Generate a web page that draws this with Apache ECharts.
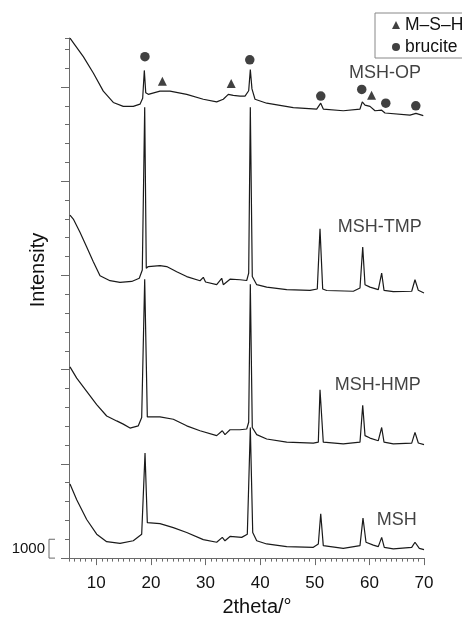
<!DOCTYPE html>
<html>
<head>
<meta charset="utf-8">
<script src="https://cdn.jsdelivr.net/npm/echarts@6/dist/echarts.min.js"></script>
<style>
html,body{margin:0;padding:0;background:#fff;}
#chart{width:462px;height:622px;}
</style>
</head>
<body>
<div id="chart"></div>
<script>
// patterns (2theta in degrees, stacked intensity in counts)
var opX  = [5.18, 6.10, 7.62, 9.45, 11.28, 13.11, 14.94, 16.77, 18.0, 18.49, 18.79, 19.05, 19.52, 21.66, 23.49, 26.55, 29.59, 32.04, 33.25, 34.17, 35.08, 36.31, 37.23, 37.9, 38.2, 38.5, 39.06, 41.20, 46.07, 50.35, 51.09, 51.56, 55.22, 58.28, 58.70, 59.20, 60.11, 61.03, 62.25, 62.86, 67.43, 68.53, 69.87];
var opY  = [27590, 27220, 26610, 25740, 24780, 24180, 23970, 23970, 24090, 24400, 25880, 24700, 24610, 24780, 24780, 24610, 24350, 24210, 24350, 24610, 24560, 24520, 24520, 24800, 25920, 24900, 24350, 24140, 23910, 23830, 24140, 23830, 23740, 23830, 24210, 24040, 23970, 23740, 23770, 23620, 23510, 23600, 23480];

var tmpX = [5.18, 5.79, 7.01, 8.24, 9.45, 10.68, 12.51, 14.34, 16.48, 17.87, 18.42, 18.86, 19.15, 19.52, 21.66, 22.89, 24.72, 26.55, 28.99, 29.59, 30.0, 32.04, 32.96, 33.25, 34.48, 36.31, 37.54, 37.90, 38.20, 38.56, 39.37, 41.20, 44.86, 49.13, 50.46, 50.96, 51.45, 52.18, 57.06, 58.28, 58.78, 59.20, 60.11, 61.63, 62.25, 62.68, 64.38, 67.75, 68.35, 68.96, 70];
var tmpY = [18200, 17990, 17290, 16510, 15730, 14980, 14720, 14630, 14680, 14850, 15290, 23930, 15380, 15470, 15520, 15470, 15200, 14940, 14720, 14900, 14650, 14510, 14850, 14510, 14800, 14770, 14730, 15120, 23930, 14940, 14510, 14380, 14250, 14210, 14280, 17470, 14280, 14200, 14160, 14330, 16510, 14510, 14380, 14250, 15120, 14210, 14140, 14160, 14770, 14210, 14070];

var hmpX = [5.18, 6.41, 8.24, 10.07, 11.90, 13.73, 14.94, 16.17, 17.69, 18.31, 18.86, 19.34, 21.66, 24.10, 26.55, 28.99, 32.04, 33.07, 33.56, 34.48, 36.31, 37.54, 37.90, 38.20, 38.56, 39.37, 41.20, 44.86, 49.74, 50.65, 50.96, 51.56, 55.22, 58.28, 58.78, 59.20, 60.11, 61.63, 62.25, 62.68, 64.38, 67.75, 68.35, 68.96, 70];
var hmpY = [10150, 9550, 8850, 8150, 7540, 7280, 7110, 6900, 7020, 7460, 14800, 7490, 7490, 7370, 7020, 6760, 6500, 6760, 6550, 6810, 6810, 6850, 7210, 14530, 6930, 6550, 6320, 6150, 6100, 6150, 8930, 6150, 6060, 6150, 8110, 6500, 6370, 6230, 6930, 6150, 6060, 6100, 6670, 6110, 6020];

var mshX = [5.18, 6.41, 8.24, 10.07, 11.90, 14.34, 16.77, 18.31, 18.92, 19.34, 21.66, 24.10, 26.55, 29.59, 32.04, 33.07, 33.56, 34.48, 36.62, 37.65, 38.20, 38.64, 39.37, 41.20, 44.86, 49.74, 50.65, 51.09, 51.56, 55.22, 58.28, 58.83, 59.38, 60.72, 61.63, 62.25, 62.73, 64.38, 67.75, 68.35, 69.14, 70];
var mshY = [3930, 3100, 2050, 1270, 870, 780, 920, 1270, 5570, 1880, 1830, 1620, 1360, 980, 840, 1100, 920, 1150, 1100, 1270, 6930, 1360, 920, 750, 610, 570, 750, 2350, 660, 520, 660, 2130, 840, 690, 610, 1100, 570, 490, 570, 840, 520, 450];

// phase markers above the MSH-OP pattern
var bruciteX = [18.9, 38.1, 51.1, 58.6, 63.0, 68.5];
var bruciteY = [26610, 26440, 24520, 24870, 24140, 24000];
var mshMarkX = [22.1, 34.7, 60.4];
var mshMarkY = [25300, 25180, 24560];

var labelNames = ['MSH-OP', 'MSH-TMP', 'MSH-HMP', 'MSH'];
var labelX = [69.45, 69.58, 69.4, 68.67];
var labelY = [25740, 17590, 9195, 2020];

var xTickLabels = [10, 20, 30, 40, 50, 60, 70];
var yMajorTicks = [0, 5000, 10000, 15000, 20000, 25000];
var scaleBar = [5, 0, 1000];

function pairs(xs, ys) {
  var out = [];
  for (var i = 0; i < xs.length; i++) out.push([xs[i], ys[i]]);
  return out;
}

var lineColor = '#1a1a1a';
var axisColor = '#6a6a6a';
var textColor = '#111';
var font = '"Liberation Sans", Arial, sans-serif';

function pattern(name, xs, ys) {
  return {
    name: name,
    type: 'line',
    data: pairs(xs, ys),
    symbol: 'none',
    lineStyle: { color: lineColor, width: 1.2 },
    silent: true
  };
}

var chart = echarts.init(document.getElementById('chart'));

var option = {
  animation: false,
  textStyle: { fontFamily: font },
  grid: { left: 69, right: 38, top: 38, bottom: 56 },
  legend: {
    data: ['M–S–H', 'brucite'],
    orient: 'vertical',
    left: 375,
    top: 13,
    padding: [3, 10, 2, 17],
    itemGap: 4,
    itemWidth: 8,
    itemHeight: 8,
    borderColor: '#888',
    borderWidth: 1,
    backgroundColor: '#fff',
    selectedMode: false,
    textStyle: { fontSize: 17.5, color: textColor, fontFamily: font }
  },
  xAxis: [{
    type: 'value',
    min: 5,
    max: 70,
    interval: 1,
    axisLine: { lineStyle: { color: axisColor } },
    axisTick: { length: 3.5, lineStyle: { color: axisColor } },
    axisLabel: { customValues: xTickLabels, margin: 17, fontSize: 17, color: textColor, fontFamily: font },
    splitLine: { show: false },
    name: '2theta/°',
    nameLocation: 'middle',
    nameGap: 36,
    nameTextStyle: { fontSize: 20, color: textColor, fontFamily: font, padding: [0, 0, 0, 21] }
  }, {
    type: 'value',
    min: 5,
    max: 70,
    position: 'bottom',
    axisLine: { show: false },
    axisTick: { customValues: xTickLabels, length: 7, lineStyle: { color: axisColor } },
    axisLabel: { show: false },
    splitLine: { show: false }
  }],
  yAxis: [{
    type: 'value',
    min: 0,
    max: 27600,
    interval: 1000,
    axisLine: { show: true, lineStyle: { color: axisColor } },
    axisTick: { show: true, length: 4, lineStyle: { color: axisColor } },
    axisLabel: { show: false },
    splitLine: { show: false },
    name: 'Intensity',
    nameLocation: 'middle',
    nameGap: 21,
    nameRotate: 90,
    nameTextStyle: { fontSize: 20, color: textColor, fontFamily: font, padding: [0, 0, 0, 56] }
  }, {
    type: 'value',
    min: 0,
    max: 27600,
    position: 'left',
    axisLine: { show: false },
    axisTick: { show: true, customValues: yMajorTicks, length: 8, lineStyle: { color: axisColor } },
    axisLabel: { show: false },
    splitLine: { show: false }
  }],
  series: [
    pattern('MSH-OP', opX, opY),
    pattern('MSH-TMP', tmpX, tmpY),
    pattern('MSH-HMP', hmpX, hmpY),
    pattern('MSH', mshX, mshY),
    {
      name: 'M–S–H',
      type: 'scatter',
      symbol: 'triangle',
      symbolSize: 9,
      itemStyle: { color: '#111' },
      data: pairs(mshMarkX, mshMarkY)
    },
    {
      name: 'brucite',
      type: 'scatter',
      symbol: 'circle',
      symbolSize: 9.5,
      itemStyle: { color: '#111' },
      data: pairs(bruciteX, bruciteY)
    },
    {
      type: 'scatter',
      symbolSize: 0,
      silent: true,
      data: labelNames.map(function (n, i) { return { name: n, value: [labelX[i], labelY[i]] }; }),
      label: {
        show: true,
        position: 'left',
        distance: 0,
        formatter: '{b}',
        fontSize: 18,
        color: textColor,
        fontFamily: font
      }
    },
    {
      // 1000-count scale bracket left of the axis
      type: 'custom',
      clip: false,
      silent: true,
      data: [scaleBar],
      encode: { x: 0, y: [1, 2] },
      renderItem: function (params, api) {
        var p0 = api.coord([api.value(0), api.value(1)]);
        var p1 = api.coord([api.value(0), api.value(2)]);
        var x = p0[0] - 20;
        return {
          type: 'group',
          children: [{
            type: 'polyline',
            shape: { points: [[x + 6, p1[1]], [x, p1[1]], [x, p0[1]], [x + 6, p0[1]]] },
            style: { stroke: axisColor, fill: null, lineWidth: 1 }
          }, {
            type: 'text',
            style: {
              text: '1000',
              x: x - 4,
              y: (p0[1] + p1[1]) / 2,
              align: 'right',
              verticalAlign: 'middle',
              fontSize: 15,
              fill: textColor,
              fontFamily: font
            }
          }]
        };
      }
    }
  ]
};

chart.setOption(option);
</script>
</body>
</html>
